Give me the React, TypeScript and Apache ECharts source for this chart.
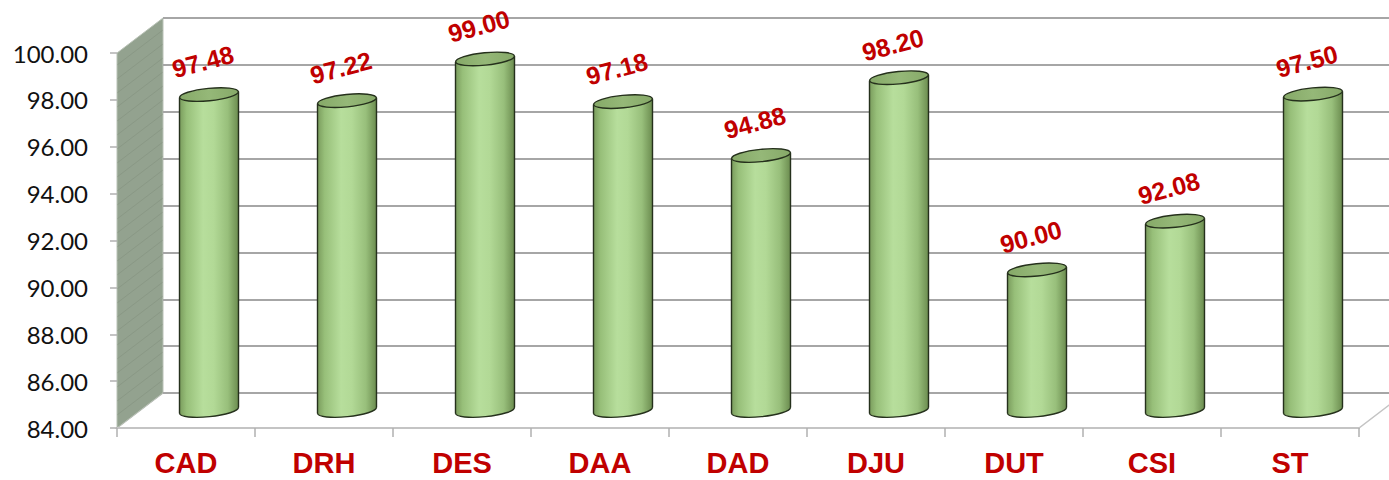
import React, { useEffect, useRef } from "react";
import * as echarts from "echarts";

const categories = ["CAD", "DRH", "DES", "DAA", "DAD", "DJU", "DUT", "CSI", "ST"];
const values = [97.48, 97.22, 99.0, 97.18, 94.88, 98.2, 90.0, 92.08, 97.5];
const yMin = 84;
const yMax = 100;
const yInterval = 2;

// layout (pixels)
const FL = 117; // front left
const FT = 53; // front top
const GW = 1242;
const GH = 375;
const DX = 46; // depth offset
const DY = -35;

export default function App() {
  const ref = useRef<HTMLDivElement>(null);
  useEffect(() => {
    if (!ref.current) return;
    document.body.style.margin = "0";
    document.body.style.overflow = "hidden";
    const chart = echarts.init(ref.current, null, { renderer: "svg" });
    const bodyGrad = new echarts.graphic.LinearGradient(0, 0, 1, 0, [
      { offset: 0, color: "#7a9c5d" },
      { offset: 0.12, color: "#97bf79" },
      { offset: 0.4, color: "#b7de9c" },
      { offset: 0.58, color: "#b2d996" },
      { offset: 0.82, color: "#98bf7b" },
      { offset: 1, color: "#6b8c4f" },
    ]);
    const topGrad = new echarts.graphic.LinearGradient(0, 0, 1, 0, [
      { offset: 0, color: "#86a968" },
      { offset: 0.5, color: "#95b878" },
      { offset: 1, color: "#86a968" },
    ]);
    const stroke = "#25301c";
    const rx = 29.5;
    const ry = 6.2;
    const rot = 0.1;
    const d = rx * Math.sin(rot);

    const mkY = (show: boolean) => ({
      type: "value",
      min: yMin,
      max: yMax,
      interval: yInterval,
      show,
    });

    // decorative hatch on side wall
    const hatch: any[] = [];
    for (let y = FT + 12; y <= FT + GH + 20; y += 14) {
      hatch.push({
        type: "line",
        z: -9,
        silent: true,
        shape: { x1: FL, y1: y, x2: FL + DX, y2: y + DY },
        style: { stroke: "rgba(70,85,65,0.12)", lineWidth: 1 },
      });
    }

    const option: any = {
      animation: false,
      backgroundColor: "#ffffff",
      graphic: [
        {
          type: "polygon",
          z: -10,
          shape: {
            points: [
              [FL, FT + GH],
              [FL + DX, FT + GH + DY],
              [FL + DX + GW, FT + GH + DY],
              [FL + GW, FT + GH],
            ],
          },
          style: { fill: "#ffffff", stroke: "#c4c4c4", lineWidth: 1.5 },
        },
        {
          type: "polygon",
          z: -10,
          shape: {
            points: [
              [FL, FT + GH],
              [FL, FT],
              [FL + DX, FT + DY],
              [FL + DX, FT + GH + DY],
            ],
          },
          style: { fill: "#93a28f", stroke: "#b9c2b6", lineWidth: 1 },
        },
        {
          type: "group",
          z: -9,
          clipPath: {
            type: "polygon",
            shape: {
              points: [
                [FL, FT + GH],
                [FL, FT],
                [FL + DX, FT + DY],
                [FL + DX, FT + GH + DY],
              ],
            },
          },
          children: hatch,
        },
      ],
      grid: [
        { left: FL, top: FT, width: GW, height: GH },
        { left: FL + DX, top: FT + DY, width: GW, height: GH },
        { left: FL + DX / 2, top: FT + DY / 2, width: GW, height: GH },
      ],
      xAxis: [
        {
          type: "category",
          gridIndex: 0,
          data: categories,
          axisLine: { show: true, lineStyle: { color: "#c4c4c4", width: 2 } },
          axisTick: { show: true, length: 9, lineStyle: { color: "#b0b0b0", width: 1.5 } },
          axisLabel: {
            color: "#c00000",
            fontWeight: "bold",
            fontSize: 29,
            fontFamily: '"Liberation Sans", Arial, sans-serif',
            margin: 20,
          },
        },
        { type: "category", gridIndex: 1, data: categories, show: false },
        { type: "category", gridIndex: 2, data: categories, show: false },
      ],
      yAxis: [
        {
          ...mkY(true),
          gridIndex: 0,
          axisLine: { show: false },
          axisTick: { show: true, length: 7, lineStyle: { color: "#b0b0b0", width: 1.5 } },
          splitLine: { show: false },
          axisLabel: {
            color: "#111111",
            fontSize: 24,
            fontFamily: 'Lato, "Open Sans", sans-serif',
            margin: 29,
            formatter: (v: number) => v.toFixed(2),
          },
        },
        {
          ...mkY(true),
          gridIndex: 1,
          axisLine: { show: false },
          axisTick: { show: false },
          axisLabel: { show: false },
          splitLine: { show: true, lineStyle: { color: "#a6a6a6", width: 2 } },
        },
        { ...mkY(false), gridIndex: 2 },
      ],
      series: [
        {
          type: "custom",
          xAxisIndex: 2,
          yAxisIndex: 2,
          data: values.map((v, i) => [i, v]),
          renderItem: (params: any, api: any) => {
            const i = api.value(0);
            const v = api.value(1);
            const top = api.coord([i, v]);
            const bot = api.coord([i, yMin]);
            const cx = top[0];
            const L = cx - rx;
            const R = cx + rx;
            return {
              type: "group",
              children: [
                {
                  type: "ellipse",
                  x: cx,
                  y: bot[1],
                  rotation: rot,
                  shape: { cx: 0, cy: 0, rx, ry },
                  style: { fill: bodyGrad, stroke, lineWidth: 1.4 },
                },
                {
                  type: "polygon",
                  shape: {
                    points: [
                      [L, top[1] + d],
                      [R, top[1] - d],
                      [R, bot[1] - d],
                      [L, bot[1] + d],
                    ],
                  },
                  style: { fill: bodyGrad },
                },
                {
                  type: "line",
                  shape: { x1: L, y1: top[1] + d, x2: L, y2: bot[1] + d },
                  style: { stroke, lineWidth: 1.4 },
                },
                {
                  type: "line",
                  shape: { x1: R, y1: top[1] - d, x2: R, y2: bot[1] - d },
                  style: { stroke, lineWidth: 1.4 },
                },
                {
                  type: "ellipse",
                  x: cx,
                  y: top[1],
                  rotation: rot,
                  shape: { cx: 0, cy: 0, rx, ry },
                  style: { fill: topGrad, stroke, lineWidth: 1.4 },
                },
                {
                  type: "text",
                  x: cx - 6,
                  y: top[1] - 33,
                  rotation: (15 * Math.PI) / 180,
                  style: {
                    text: v.toFixed(2),
                    fill: "#c00000",
                    font: 'bold 25px "Liberation Sans", Arial, sans-serif',
                    align: "center",
                    verticalAlign: "middle",
                  },
                },
              ],
            };
          },
        },
      ],
    };
    chart.setOption(option);
    return () => chart.dispose();
  }, []);
  return (
    <div
      ref={ref}
      style={{ position: "fixed", left: 0, top: 0, width: 1389, height: 480 }}
    />
  );
}
